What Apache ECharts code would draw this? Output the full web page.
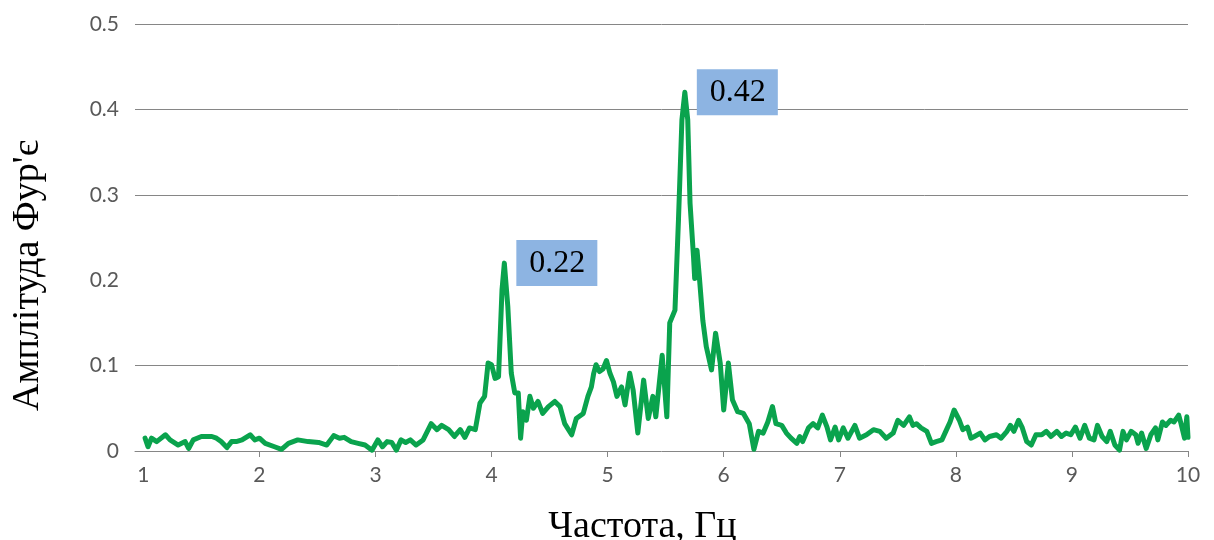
<!DOCTYPE html>
<html>
<head>
<meta charset="utf-8">
<script src="https://cdn.jsdelivr.net/npm/echarts@6/dist/echarts.min.js"></script>
<style>
  html, body { margin: 0; padding: 0; background: #ffffff; }
  #chart { width: 1214px; height: 540px; }
</style>
</head>
<body>
<div id="chart"></div>
<script>
// Fourier amplitude spectrum: frequency (Hz) and amplitude samples
const freq = [
  1.015, 1.04, 1.07, 1.115, 1.19, 1.23, 1.30, 1.36, 1.39, 1.43,
  1.50, 1.59, 1.63, 1.67, 1.72, 1.76, 1.80, 1.85, 1.92, 1.96,
  2.00, 2.05, 2.13, 2.19, 2.25, 2.33, 2.42, 2.51, 2.58, 2.64,
  2.69, 2.73, 2.79, 2.85, 2.91, 2.97, 3.02, 3.06, 3.10, 3.14,
  3.18, 3.22, 3.26, 3.30, 3.35, 3.41, 3.48, 3.53, 3.57, 3.63,
  3.68, 3.73, 3.77, 3.81, 3.86, 3.90, 3.94, 3.97, 4.00, 4.03,
  4.06, 4.09, 4.11, 4.14, 4.17, 4.20, 4.23, 4.25, 4.27, 4.30,
  4.33, 4.36, 4.40, 4.44, 4.49, 4.545, 4.59, 4.63, 4.69, 4.73,
  4.79, 4.83, 4.86, 4.88, 4.90, 4.93, 4.96, 4.99, 5.02, 5.05,
  5.08, 5.12, 5.15, 5.19, 5.22, 5.26, 5.31, 5.35, 5.39, 5.415,
  5.47, 5.51, 5.535, 5.58, 5.61, 5.64, 5.665, 5.69, 5.71, 5.74,
  5.75, 5.77, 5.79, 5.82, 5.85, 5.895, 5.93, 5.97, 6.00, 6.04,
  6.075, 6.12, 6.17, 6.22, 6.26, 6.30, 6.34, 6.38, 6.42, 6.45,
  6.50, 6.54, 6.58, 6.63, 6.655, 6.68, 6.73, 6.77, 6.81, 6.85,
  6.89, 6.92, 6.96, 6.99, 7.03, 7.07, 7.13, 7.17, 7.23, 7.29,
  7.345, 7.40, 7.46, 7.50, 7.55, 7.60, 7.63, 7.66, 7.70, 7.75,
  7.79, 7.83, 7.88, 7.92, 7.95, 7.985, 8.03, 8.06, 8.10, 8.13,
  8.16, 8.21, 8.25, 8.29, 8.35, 8.39, 8.44, 8.47, 8.50, 8.54,
  8.57, 8.61, 8.65, 8.69, 8.74, 8.78, 8.82, 8.87, 8.91, 8.95,
  8.99, 9.03, 9.07, 9.11, 9.15, 9.19, 9.22, 9.26, 9.30, 9.33,
  9.37, 9.41, 9.44, 9.47, 9.51, 9.55, 9.57, 9.60, 9.64, 9.68,
  9.72, 9.74, 9.78, 9.81, 9.85, 9.88, 9.92, 9.94, 9.97, 9.99,
  10.0
];
const amp = [
  0.015, 0.005, 0.015, 0.011, 0.019, 0.013, 0.007, 0.011, 0.003, 0.013,
  0.017, 0.017, 0.015, 0.011, 0.004, 0.011, 0.011, 0.013, 0.019, 0.013,
  0.015, 0.009, 0.005, 0.002, 0.009, 0.013, 0.011, 0.010, 0.007, 0.018,
  0.015, 0.016, 0.011, 0.009, 0.007, 0.001, 0.013, 0.005, 0.011, 0.010,
  0.001, 0.013, 0.010, 0.013, 0.007, 0.013, 0.032, 0.025, 0.030, 0.025,
  0.017, 0.025, 0.016, 0.027, 0.025, 0.056, 0.064, 0.103, 0.101, 0.085,
  0.087, 0.189, 0.22, 0.169, 0.091, 0.068, 0.068, 0.015, 0.046, 0.036,
  0.064, 0.050, 0.058, 0.044, 0.052, 0.058, 0.052, 0.032, 0.019, 0.038,
  0.044, 0.064, 0.075, 0.091, 0.101, 0.093, 0.096, 0.106, 0.091, 0.081,
  0.064, 0.075, 0.054, 0.091, 0.071, 0.021, 0.083, 0.038, 0.064, 0.040,
  0.112, 0.040, 0.150, 0.165, 0.270, 0.388, 0.42, 0.388, 0.290, 0.227,
  0.202, 0.235, 0.204, 0.153, 0.122, 0.095, 0.138, 0.103, 0.048, 0.103,
  0.060, 0.046, 0.044, 0.032, 0.002, 0.023, 0.021, 0.034, 0.052, 0.032,
  0.030, 0.021, 0.015, 0.009, 0.017, 0.011, 0.027, 0.032, 0.027, 0.042,
  0.028, 0.013, 0.028, 0.013, 0.027, 0.015, 0.030, 0.015, 0.019, 0.025,
  0.023, 0.015, 0.021, 0.036, 0.030, 0.040, 0.030, 0.032, 0.027, 0.023,
  0.009, 0.011, 0.013, 0.025, 0.034, 0.048, 0.036, 0.025, 0.028, 0.015,
  0.017, 0.021, 0.013, 0.017, 0.019, 0.015, 0.023, 0.030, 0.023, 0.036,
  0.028, 0.011, 0.007, 0.019, 0.019, 0.023, 0.017, 0.023, 0.017, 0.021,
  0.019, 0.028, 0.015, 0.030, 0.015, 0.013, 0.030, 0.017, 0.011, 0.023,
  0.007, 0.001, 0.023, 0.013, 0.023, 0.019, 0.009, 0.021, 0.003, 0.019,
  0.027, 0.013, 0.034, 0.030, 0.036, 0.034, 0.042, 0.032, 0.015, 0.040,
  0.016
];

// Axis tick values
const xLabelValues = [1, 2, 3, 4, 5, 6, 7, 8, 9, 10];
const xTickValues = [2, 3, 4, 5, 6, 7, 8, 9, 10];
// Horizontal reference lines drawn across the plot
const gridLevels = [0.1, 0.3, 0.4, 0.5];
// Peaks annotated with their amplitude
const peakFreqs = [4.11, 5.665];

const points = freq.map((f, i) => [f, amp[i]]);
const peakPoints = peakFreqs.map(pf => {
  const i = freq.indexOf(pf);
  return { coord: [freq[i], amp[i]], value: amp[i] };
});

const tickFont = 'Lato, "Open Sans", sans-serif';
const titleFont = '"Liberation Serif", "DejaVu Serif", serif';

const chart = echarts.init(document.getElementById('chart'), null, { renderer: 'canvas' });
chart.setOption({
  animation: false,
  backgroundColor: '#ffffff',
  grid: {
    left: 135, right: 26, top: 24, bottom: 89,
    containLabel: false,
    outerBoundsMode: 'none'
  },
  xAxis: {
    type: 'value',
    min: 0.928,
    max: 10,
    name: 'Частота, Гц',
    nameLocation: 'middle',
    nameGap: 57,
    nameTextStyle: {
      fontFamily: titleFont, fontSize: 38, color: '#000000',
      padding: [0, 38, 0, 0]
    },
    axisLine: { show: true, lineStyle: { color: '#868686', width: 1 } },
    axisTick: {
      show: true, length: 6, customValues: xTickValues,
      lineStyle: { color: '#868686', width: 1 }
    },
    axisLabel: {
      customValues: xLabelValues,
      margin: 14,
      fontFamily: tickFont, fontSize: 21, color: '#595959',
      formatter: v => String(v)
    },
    splitLine: { show: false }
  },
  yAxis: {
    type: 'value',
    min: 0,
    max: 0.5,
    interval: 0.1,
    name: 'Амплітуда Фур\'є',
    nameLocation: 'middle',
    nameRotate: 90,
    nameGap: 88,
    nameTextStyle: {
      fontFamily: titleFont, fontSize: 38, color: '#000000',
      padding: [0, 76, 0, 0]
    },
    axisLine: { show: false },
    axisTick: { show: false },
    axisLabel: {
      margin: 16,
      fontFamily: tickFont, fontSize: 21, color: '#595959',
      formatter: v => (v === 0 ? '0' : v.toFixed(1))
    },
    splitLine: { show: false }
  },
  series: [{
    type: 'line',
    data: points,
    symbol: 'none',
    z: 3,
    lineStyle: { color: '#0AA34D', width: 5, cap: 'round', join: 'round' },
    markLine: {
      silent: true,
      z: 1,
      symbol: ['none', 'none'],
      label: { show: false },
      lineStyle: { color: '#868686', width: 1, type: 'solid' },
      emphasis: { disabled: true },
      data: gridLevels.map(v => ({ yAxis: v }))
    },
    markPoint: {
      silent: true,
      symbol: 'circle',
      symbolSize: 0,
      data: peakPoints,
      label: {
        show: true,
        position: 'right',
        distance: 12,
        formatter: p => String(p.value),
        fontFamily: titleFont,
        fontSize: 32,
        lineHeight: 36,
        color: '#000000',
        backgroundColor: '#8DB4E2',
        padding: [5, 12, 5, 13]
      }
    }
  }]
});
</script>
</body>
</html>
